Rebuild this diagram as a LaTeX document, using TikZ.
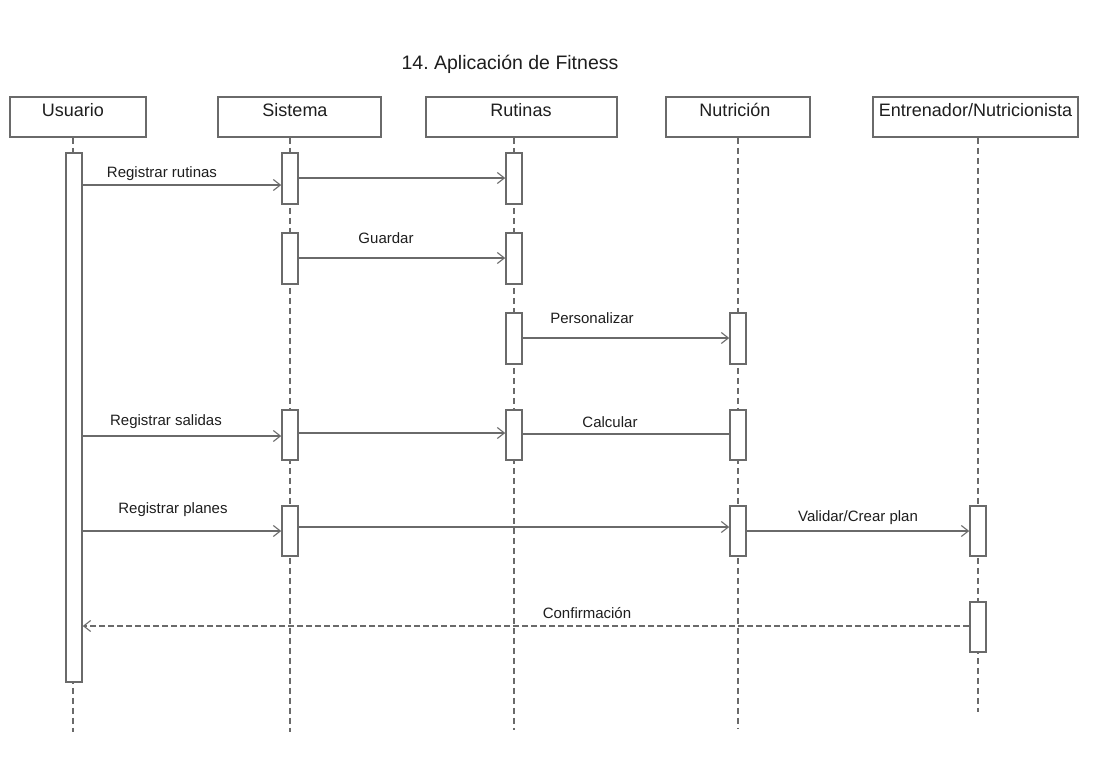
\documentclass[tikz,border=0pt]{standalone}
\usepackage{fontspec}
\setmainfont{Liberation Sans}
\usetikzlibrary{arrows.meta}
\definecolor{ln}{HTML}{6A6A6A}
\definecolor{tx}{HTML}{1E1E1E}
\frenchspacing
\tikzset{
  head/.style={draw=ln, line width=1.6pt, fill=white, minimum height=40pt, inner sep=0pt},
  headtext/.style={text=tx, font=\fontsize{18}{21}\selectfont, inner sep=0pt},
  act/.style={draw=ln, line width=1.6pt, fill=white, minimum width=16pt, inner sep=0pt},
  life/.style={draw=ln, line width=1.4pt, dash pattern=on 6pt off 4pt},
  msg/.style={draw=ln, line width=1.4pt, -{Straight Barb[length=7pt,width=11pt,line width=1.1pt]}},
  msgplain/.style={draw=ln, line width=1.4pt},
  ret/.style={draw=ln, line width=1.4pt, dash pattern=on 6pt off 3pt, -{Straight Barb[length=7pt,width=11pt,line width=1.1pt]}},
  lbl/.style={text=tx, font=\fontsize{15}{17}\selectfont, inner sep=0pt},
}
\begin{document}
\begin{tikzpicture}[x=1pt,y=-1pt]
\useasboundingbox[fill=white] (0,0) rectangle (1117,771);
% title
\node[text=tx, font=\fontsize{19.5}{23}\selectfont, inner sep=0pt] (title) at (510,64) {14. Aplicación de Fitness};
% headers
\node[head, minimum width=136pt] (hU) at (78,117) {};
\node[head, minimum width=163pt] (hS) at (299.5,117) {};
\node[head, minimum width=191pt] (hR) at (521.5,117) {};
\node[head, minimum width=144pt] (hN) at (738,117) {};
\node[head, minimum width=205pt] (hE) at (975.5,117) {};
\node[headtext] (tU) at (73,110) {Usuario};
\node[headtext] (tS) at (295,110) {Sistema};
\node[headtext] (tR) at (521,110) {Rutinas};
\node[headtext] (tN) at (735,110) {Nutrición};
\node[headtext] (tE) at (975.5,110) {Entrenador/Nutricionista};
% lifeline ends
\coordinate (eU) at (73,732);
\coordinate (eS) at (290,732);
\coordinate (eR) at (514,730);
\coordinate (eN) at (738,728);
\coordinate (eE) at (978,712);
\draw[life] (hU.south -| eU) -- (eU);
\draw[life] (hS.south -| eS) -- (eS);
\draw[life] (hR.south -| eR) -- (eR);
\draw[life] (hN.south -| eN) -- (eN);
\draw[life] (hE.south -| eE) -- (eE);
% activations
\node[act, minimum height=529pt] (aU) at (74,417.5) {};
\node[act, minimum height=51pt] (aS1) at (290,178.5) {};
\node[act, minimum height=51pt] (aS2) at (290,258.5) {};
\node[act, minimum height=50pt] (aS3) at (290,435) {};
\node[act, minimum height=50pt] (aS4) at (290,531) {};
\node[act, minimum height=51pt] (aR1) at (514,178.5) {};
\node[act, minimum height=51pt] (aR2) at (514,258.5) {};
\node[act, minimum height=51pt] (aR3) at (514,338.5) {};
\node[act, minimum height=50pt] (aR4) at (514,435) {};
\node[act, minimum height=51pt] (aN1) at (738,338.5) {};
\node[act, minimum height=50pt] (aN2) at (738,435) {};
\node[act, minimum height=50pt] (aN3) at (738,531) {};
\node[act, minimum height=50pt] (aE1) at (978,531) {};
\node[act, minimum height=50pt] (aE2) at (978,627) {};
% message levels
\coordinate (y1) at (0,185);
\coordinate (y2) at (0,178);
\coordinate (y3) at (0,258);
\coordinate (y4) at (0,338);
\coordinate (y5) at (0,436);
\coordinate (y6) at (0,433);
\coordinate (y7) at (0,434);
\coordinate (y8) at (0,531);
\coordinate (y9) at (0,527);
\coordinate (y10) at (0,531);
\coordinate (y11) at (0,626);
% messages
\draw[msg] (aU.east |- y1) -- (aS1.west |- y1);
\draw[msg] (aS1.east |- y2) -- (aR1.west |- y2);
\draw[msg] (aS2.east |- y3) -- (aR2.west |- y3);
\draw[msg] (aR3.east |- y4) -- (aN1.west |- y4);
\draw[msg] (aU.east |- y5) -- (aS3.west |- y5);
\draw[msg] (aS3.east |- y6) -- (aR4.west |- y6);
\draw[msgplain] (aR4.east |- y7) -- (aN2.west |- y7);
\draw[msg] (aU.east |- y8) -- (aS4.west |- y8);
\draw[msg] (aS4.east |- y9) -- (aN3.west |- y9);
\draw[msg] (aN3.east |- y10) -- (aE1.west |- y10);
\draw[ret] (aE2.west |- y11) -- (aU.east |- y11);
% labels
\node[lbl] (l1) at (162,174) {Registrar rutinas};
\node[lbl] (l3) at (386,238) {Guardar};
\node[lbl] (l4) at (592,318) {Personalizar};
\node[lbl] (l5) at (166,422) {Registrar salidas};
\node[lbl] (l7) at (610,422) {Calcular};
\node[lbl] (l8) at (173,510) {Registrar planes};
\node[lbl] (l10) at (858,518) {Validar/Crear plan};
\node[lbl] (l11) at (587,613) {Confirmación};
\end{tikzpicture}
\end{document}
